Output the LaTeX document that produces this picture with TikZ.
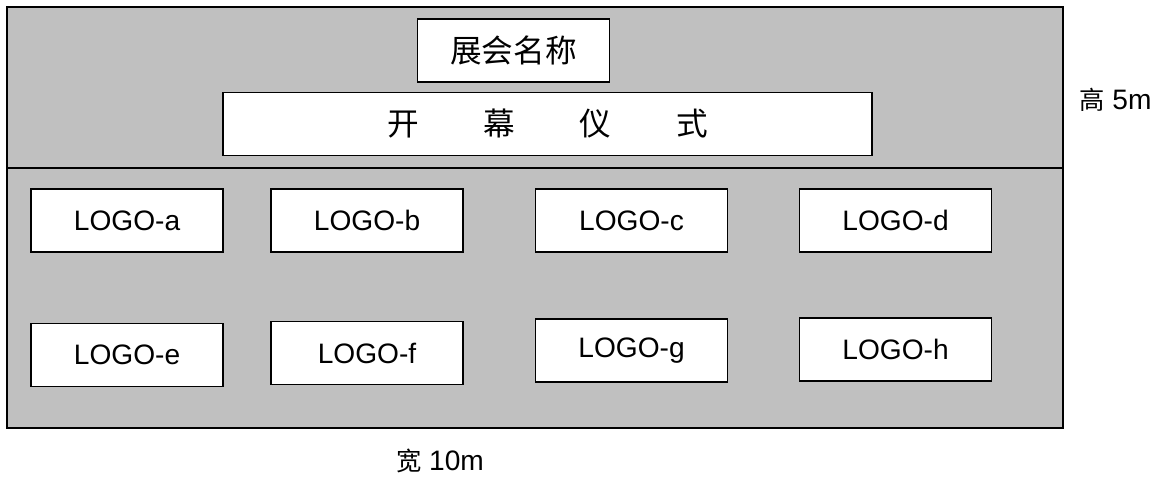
\documentclass[tikz,border=0pt]{standalone}
\usepackage{fontspec}
\setmainfont{Liberation Sans}
\newfontfamily\cjk{Noto Sans CJK SC}
\definecolor{stagegray}{RGB}{192,192,192}

\tikzset{
  box/.style={draw, fill=white, line width=1.1pt, inner sep=0pt,
    minimum width=4.8cm, minimum height=1.575cm},
  logo/.style={box, font=\fontsize{20pt}{24pt}\selectfont},
  title/.style={box, font=\cjk\fontsize{22.5pt}{26pt}\selectfont},
  dim/.style={inner sep=0pt, font=\fontsize{20pt}{24pt}\selectfont}
}

\begin{document}
\begin{tikzpicture}[x=0.025cm, y=-0.025cm]
    \useasboundingbox (0,0) rectangle (1163,478);

    % stage
    \filldraw[fill=stagegray, line width=1.3pt] (7,7) rectangle (1063,428);
    \draw[line width=1.3pt] (7,168) -- (1063,168);

    \node[title] (name) at (513.5,50.5) {展会名称};
    \node[title, minimum width=16.225cm] (ceremony) at (547.5,124)
      {开\hspace{1.62cm}幕\hspace{1.62cm}仪\hspace{1.62cm}式};

    \foreach \n/\x/\y in {a/127/220.5, b/367/220.5, c/631.5/220.5, d/895.5/220.5,
                          e/127/355, f/367/353, g/631.5/350.5, h/895.5/349.5}
      \node[logo] (logo-\n) at (\x,\y) {LOGO-\n};

    \node[dim, anchor=west] (height) at (1079,100)
      {{\cjk\fontsize{18pt}{20pt}\selectfont 高} 5m};
    \node[dim] (width) at (440,461)
      {{\cjk\fontsize{18pt}{20pt}\selectfont 宽} 10m};

\end{tikzpicture}
\end{document}
